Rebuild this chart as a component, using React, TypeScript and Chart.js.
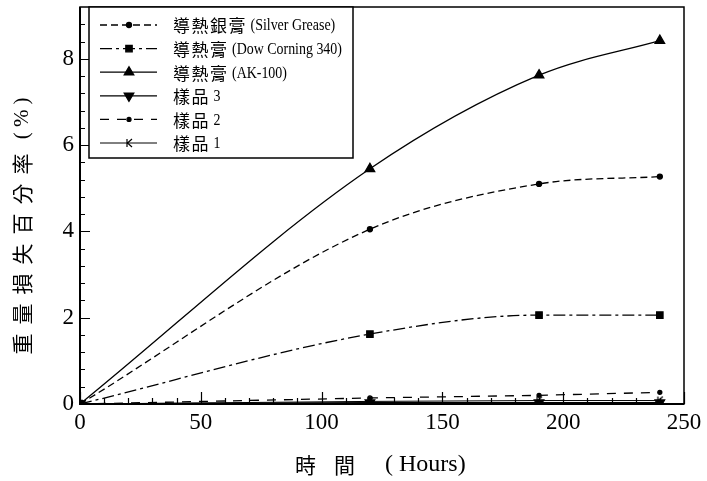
import React, { useEffect, useRef } from 'react';
import { Chart, registerables } from 'chart.js';
import { drawPoint } from 'chart.js/helpers';

Chart.register(...registerables);

// ---- data ----
const hours = [0, 120, 190, 240];
const silverGrease = [0, 4.05, 5.1, 5.27];
const dowCorning = [0, 1.62, 2.06, 2.06];
const ak100 = [0, 5.45, 7.62, 8.42];
const sample3 = [0, 0.03, 0.03, 0.03];
const sample2 = [0, 0.14, 0.2, 0.27];
const sample1 = [0, 0.06, 0.08, 0.08];
const seriesLabels = [
  '導熱銀膏 (Silver Grease)',
  '導熱膏 (Dow Corning 340)',
  '導熱膏 (AK-100)',
  '樣品 3',
  '樣品 2',
  '樣品 1',
];
const xTicks = [0, 50, 100, 150, 200, 250];
const yTicks = [0, 2, 4, 6, 8];
const xTitle = '時間  ( Hours)';
const yTitle = '重量損失百分率 ( % )';

const CJK_RE = /[\u3000-\u9fff\uff00-\uffef]/;

function splitRuns(text: string): string[] {
  return text.match(/[\u3000-\u9fff\uff00-\uffef]+|[^\u3000-\u9fff\uff00-\uffef]+/g) || [];
}

function measureMixed(ctx: any, text: string, cjkFont: string, latFont: string, cjkSp: number, latScale: number) {
  let w = 0;
  for (const r of splitRuns(text)) {
    const isCjk = CJK_RE.test(r);
    ctx.font = isCjk ? cjkFont : latFont;
    ctx.letterSpacing = isCjk ? cjkSp + 'px' : '0px';
    w += ctx.measureText(r).width * (isCjk ? 1 : latScale);
  }
  ctx.letterSpacing = '0px';
  return w;
}

function drawMixed(ctx: any, text: string, x: number, y: number, cjkFont: string, latFont: string, cjkSp: number, latScale: number) {
  let cx = x;
  ctx.textAlign = 'left';
  ctx.textBaseline = 'middle';
  ctx.fillStyle = '#000';
  for (const r of splitRuns(text)) {
    const isCjk = CJK_RE.test(r);
    ctx.font = isCjk ? cjkFont : latFont;
    ctx.letterSpacing = isCjk ? cjkSp + 'px' : '0px';
    const w = ctx.measureText(r).width * (isCjk ? 1 : latScale);
    ctx.save();
    ctx.translate(cx, y);
    if (!isCjk) ctx.scale(latScale, 1);
    ctx.fillText(r, 0, 0);
    ctx.restore();
    cx += w;
  }
  ctx.letterSpacing = '0px';
}

function makeK(): HTMLCanvasElement {
  const c = document.createElement('canvas');
  c.width = 10;
  c.height = 10;
  const g = c.getContext('2d')!;
  g.strokeStyle = '#000';
  g.lineWidth = 1.2;
  g.beginPath();
  g.moveTo(3, 1);
  g.lineTo(3, 9);
  g.moveTo(8, 1);
  g.lineTo(3.5, 5);
  g.lineTo(8, 9);
  g.stroke();
  return c;
}

const framePlugin = {
  id: 'frameTicks',
  afterDraw(chart: any) {
    const { ctx, chartArea: a, scales } = chart;
    const xs = scales.x;
    const ys = scales.y;
    ctx.save();
    ctx.strokeStyle = '#000';
    // frame
    ctx.lineWidth = 1.5;
    ctx.strokeRect(a.left, a.top, a.right - a.left, a.bottom - a.top);
    ctx.lineWidth = 2;
    ctx.beginPath();
    ctx.moveTo(a.left, a.top);
    ctx.lineTo(a.left, a.bottom);
    ctx.lineTo(a.right, a.bottom);
    ctx.stroke();
    // inward ticks
    ctx.lineWidth = 1.2;
    ctx.beginPath();
    for (let v = 0; v <= 250.001; v += 10) {
      const px = Math.round(xs.getPixelForValue(v)) + 0.5;
      const len = v % 50 === 0 ? 12 : 6;
      ctx.moveTo(px, a.bottom);
      ctx.lineTo(px, a.bottom - len);
    }
    for (let i = 0; i <= 23; i++) {
      const v = i * 0.4;
      if (v > 9.2) break;
      const py = Math.round(ys.getPixelForValue(v)) + 0.5;
      const len = i % 5 === 0 ? 10 : 5;
      ctx.moveTo(a.left, py);
      ctx.lineTo(a.left + len, py);
    }
    ctx.stroke();

    // axis titles
    drawMixed(ctx, xTitle, 295, 465, "21px 'Noto Sans CJK TC'", "24px 'Liberation Serif'", 18, 1);
    const cjkY = "21px 'Noto Sans CJK TC'";
    const latY = "21px 'Liberation Serif'";
    const tw = measureMixed(ctx, yTitle, cjkY, latY, 9, 1);
    ctx.save();
    ctx.translate(22, 226);
    ctx.rotate(-Math.PI / 2);
    drawMixed(ctx, yTitle, -tw / 2, 0, cjkY, latY, 9, 1);
    ctx.restore();

    // legend
    const lx = 89, ly = 7, lw = 264, lh = 151;
    ctx.fillStyle = '#fff';
    ctx.fillRect(lx, ly, lw, lh);
    ctx.lineWidth = 1.5;
    ctx.strokeStyle = '#000';
    ctx.strokeRect(lx, ly, lw, lh);
    chart.data.datasets.forEach((ds: any, i: number) => {
      const y = 25 + i * 23.6;
      ctx.save();
      ctx.strokeStyle = '#000';
      ctx.lineWidth = ds.borderWidth;
      ctx.setLineDash(ds.borderDash || []);
      ctx.beginPath();
      ctx.moveTo(100, y);
      ctx.lineTo(157, y);
      ctx.stroke();
      ctx.setLineDash([]);
      ctx.fillStyle = '#000';
      drawPoint(ctx, {
        pointStyle: ds.pointStyle,
        radius: ds.pointRadius,
        rotation: ds.pointRotation || 0,
        borderWidth: 1,
      } as any, 129, y);
      ctx.restore();
      drawMixed(ctx, ds.label, 173, y + 1, "17px 'Noto Sans CJK TC'", "17px 'Liberation Serif'", 1.5, 0.82);
    });
    ctx.restore();
  },
};

function pts(ys: number[]) {
  return hours.map((h, i) => ({ x: h, y: ys[i] }));
}

export default function App() {
  const ref = useRef<HTMLCanvasElement>(null);
  useEffect(() => {
    const kImg = makeK();
    const base = {
      borderColor: '#000',
      backgroundColor: '#000',
      pointBorderColor: '#000',
      pointBackgroundColor: '#000',
      borderWidth: 1.3,
    };
    const chart = new Chart(ref.current!, {
      type: 'line',
      data: {
        datasets: [
          { ...base, label: seriesLabels[0], data: pts(silverGrease), borderDash: [7, 4], pointStyle: 'circle', pointRadius: 2.5, cubicInterpolationMode: 'monotone' },
          { ...base, label: seriesLabels[1], data: pts(dowCorning), borderDash: [12, 4, 3, 4], pointStyle: 'rect', pointRadius: 4.5, cubicInterpolationMode: 'monotone' },
          { ...base, label: seriesLabels[2], data: pts(ak100), pointStyle: 'triangle', pointRadius: 5.5, cubicInterpolationMode: 'monotone' },
          { ...base, label: seriesLabels[3], data: pts(sample3), pointStyle: 'triangle', pointRadius: 5.5, pointRotation: 180 },
          { ...base, label: seriesLabels[4], data: pts(sample2), borderDash: [9, 8], pointStyle: 'circle', pointRadius: 2 },
          { ...base, label: seriesLabels[5], data: pts(sample1), borderWidth: 1, pointStyle: kImg, pointRadius: 5 },
        ] as any,
      },
      options: {
        animation: false,
        responsive: false,
        layout: { padding: { top: 7, right: 23, left: 0, bottom: 0 } },
        plugins: { legend: { display: false }, tooltip: { enabled: false } },
        scales: {
          x: {
            type: 'linear',
            min: 0,
            max: 250,
            afterBuildTicks: (s: any) => { s.ticks = xTicks.map((v) => ({ value: v })); },
            afterFit: (s: any) => { s.height = 77; s.paddingLeft = 0; s.paddingRight = 0; },
            grid: { display: false, drawTicks: false },
            border: { display: false },
            ticks: { color: '#000', padding: 5, maxRotation: 0, font: { family: "'Liberation Serif'", size: 23 } },
          },
          y: {
            type: 'linear',
            min: 0,
            max: 9.2,
            afterBuildTicks: (s: any) => { s.ticks = yTicks.map((v) => ({ value: v })); },
            afterFit: (s: any) => { s.width = 80; s.paddingTop = 0; s.paddingBottom = 0; },
            grid: { display: false, drawTicks: false },
            border: { display: false },
            ticks: { color: '#000', padding: 6, font: { family: "'Liberation Serif'", size: 23 } },
          },
        },
      },
      plugins: [framePlugin],
    } as any);
    return () => chart.destroy();
  }, []);
  return (
    <div style={{ position: 'absolute', left: 0, top: 0, width: 707, height: 481, background: '#fff' }}>
      <canvas ref={ref} width={707} height={481} style={{ display: 'block' }} />
    </div>
  );
}
